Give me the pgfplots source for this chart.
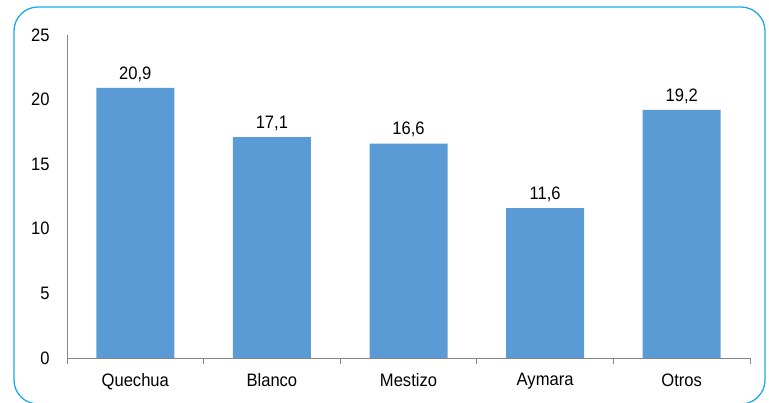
\documentclass[border=0pt]{standalone}
\usepackage{fontspec}
\setmainfont{Liberation Sans}[FakeStretch=0.92]
\usepackage{pgfplots}
\pgfplotsset{compat=1.18}
\definecolor{barblue}{RGB}{91,155,213}
\definecolor{axgray}{RGB}{134,134,134}
\definecolor{framecyan}{RGB}{30,170,230}
\begin{document}
\begin{tikzpicture}
\path[use as bounding box] (0,0) rectangle (769bp,403bp);
\begin{scope}
\clip (0,0) rectangle (769bp,403bp);
\draw[framecyan, line width=1.3bp, rounded corners=24bp] (14bp,-1bp) rectangle (765bp,396bp);
\end{scope}
\begin{axis}[
  at={(67bp,45bp)}, anchor=south west,
  scale only axis, width=683bp, height=323bp,
  xmin=-0.5, xmax=4.5, ymin=0, ymax=25,
  axis x line*=bottom, axis y line*=left,
  axis line style={axgray, line width=0.8bp},
  xtick={0,1,2,3,4},
  xticklabels={Quechua,Blanco,Mestizo,Aymara,Otros},
  ytick={0,5,10,15,20,25},
  major tick length=0pt,
  extra x ticks={-0.5,0.5,1.5,2.5,3.5,4.5},
  extra x tick labels={},
  extra x tick style={major tick length=6bp, tick align=outside, tick style={axgray, line width=0.8bp}},
  /pgf/number format/assume math mode=true,
  tick label style={font=\fontsize{18bp}{20bp}\selectfont, text=black},
  xticklabel style={yshift=-12bp},
  yticklabel style={xshift=-14bp},
  ybar, bar width=78bp,
  nodes near coords,
  nodes near coords style={font=\fontsize{18bp}{20bp}\selectfont, text=black, yshift=3bp,
    /pgf/number format/.cd, fixed, fixed zerofill, precision=1, use comma},
  clip=false,
]
\addplot[fill=barblue, draw=none] coordinates {(0,20.9) (1,17.1) (2,16.6) (3,11.6) (4,19.2)};
\end{axis}
\end{tikzpicture}
\end{document}
